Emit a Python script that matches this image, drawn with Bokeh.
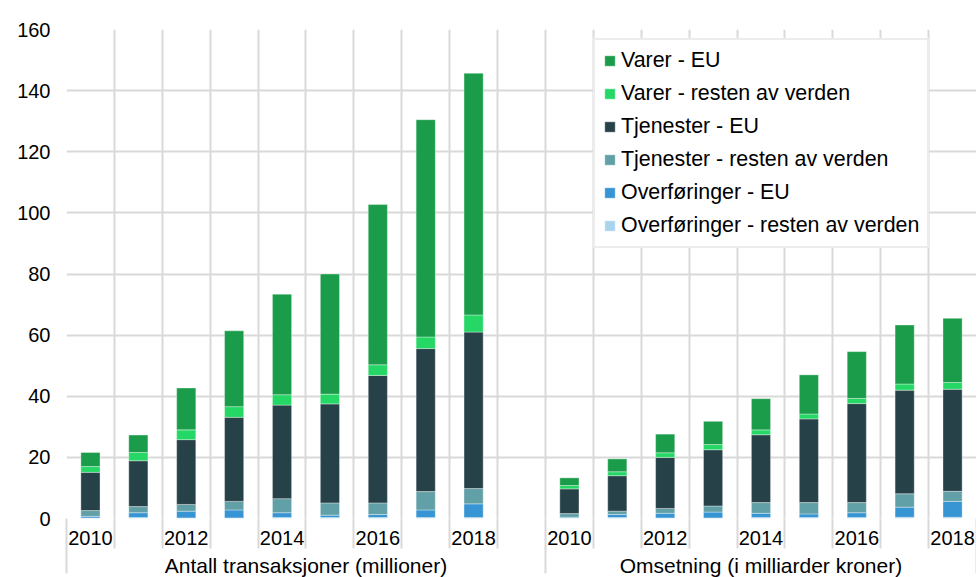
from bokeh.plotting import figure
from bokeh.models import ColumnDataSource, FixedTicker, LinearAxis, Legend, LegendItem, Range1d
from bokeh.embed import file_html
from bokeh.resources import INLINE

# ---------------- data ----------------
years = [2010, 2011, 2012, 2013, 2014, 2015, 2016, 2017, 2018]
year_labels = ["2010", "", "2012", "", "2014", "", "2016", "", "2018"]
group_labels = ["Antall transaksjoner (millioner)", "Omsetning (i milliarder kroner)"]

series_names = [
    "Overføringer - resten av verden",
    "Overføringer - EU",
    "Tjenester - resten av verden",
    "Tjenester - EU",
    "Varer - resten av verden",
    "Varer - EU",
]
series_colors = ["#aad4ee", "#3795d3", "#62a0a8", "#274148", "#25d866", "#1b9c4a"]

# Antall transaksjoner (millioner)
antall_overf_rest = [0.2, 0.3, 0.2, 0.2, 0.3, 0.3, 0.3, 0.3, 0.3]
antall_overf_eu = [0.5, 1.6, 2.2, 2.6, 1.6, 0.8, 1.0, 2.5, 4.5]
antall_tjen_rest = [1.9, 2.0, 2.2, 2.8, 4.6, 4.0, 3.8, 6.0, 5.0]
antall_tjen_eu = [12.5, 15.0, 21.2, 27.5, 30.6, 32.4, 41.7, 46.8, 51.2]
antall_varer_rest = [1.9, 2.7, 3.2, 3.5, 3.4, 3.2, 3.5, 3.8, 5.6]
antall_varer_eu = [4.6, 5.7, 13.7, 24.8, 32.9, 39.3, 52.4, 71.1, 79.1]

# Omsetning (i milliarder kroner)
oms_overf_rest = [0.2, 0.3, 0.2, 0.2, 0.3, 0.3, 0.3, 0.4, 0.4]
oms_overf_eu = [0.2, 1.0, 1.5, 1.9, 1.4, 1.2, 1.6, 3.3, 5.2]
oms_tjen_rest = [1.2, 1.1, 1.6, 2.0, 3.5, 3.7, 3.3, 4.4, 3.3]
oms_tjen_eu = [8.1, 11.6, 16.7, 18.4, 22.2, 27.4, 32.4, 33.9, 33.4]
oms_varer_rest = [1.1, 1.3, 1.5, 1.7, 1.6, 1.6, 1.7, 2.0, 2.2]
oms_varer_eu = [2.5, 4.2, 6.1, 7.6, 10.2, 12.8, 15.3, 19.3, 21.0]

y_ticks = [0, 20, 40, 60, 80, 100, 120, 140, 160]

# ---------------- layout of categories ----------------
n = len(years)
slots_g1 = n + 1          # group 1 has an empty slot after 2018
total_slots = slots_g1 + n
x_g1 = [i + 0.5 for i in range(n)]
x_g2 = [slots_g1 + i + 0.5 for i in range(n)]

keys = ["s0", "s1", "s2", "s3", "s4", "s5"]
g1 = [antall_overf_rest, antall_overf_eu, antall_tjen_rest, antall_tjen_eu, antall_varer_rest, antall_varer_eu]
g2 = [oms_overf_rest, oms_overf_eu, oms_tjen_rest, oms_tjen_eu, oms_varer_rest, oms_varer_eu]
data = {"x": x_g1 + x_g2}
for k, a, b in zip(keys, g1, g2):
    data[k] = list(a) + list(b)
source = ColumnDataSource(data)

FONT = "Liberation Sans"
GRID = "#d9d9d9"

p = figure(
    frame_width=910, frame_height=489,
    x_range=Range1d(0, total_slots), y_range=Range1d(0, 160),
    output_backend="svg", toolbar_location=None,
    min_border_left=66, min_border_top=29, min_border_right=0, min_border_bottom=0,
)
p.outline_line_color = None
p.background_fill_color = "white"

renderers = p.vbar_stack(
    keys, x="x", width=0.4, source=source,
    fill_color=series_colors, line_color="white", line_alpha=0.35, line_width=1,
)

# y axis
p.yaxis.ticker = FixedTicker(ticks=y_ticks)
p.yaxis.axis_line_color = None
p.yaxis.major_tick_line_color = None
p.yaxis.minor_tick_line_color = None
p.yaxis.major_label_standoff = 10
p.yaxis.major_label_text_font = FONT
p.yaxis.major_label_text_font_size = "20px"
p.yaxis.major_label_text_color = "black"

# grids
p.ygrid.grid_line_color = GRID
p.ygrid.grid_line_width = 2
p.xgrid.ticker = FixedTicker(ticks=list(range(total_slots + 1)))
p.xgrid.grid_line_color = GRID
p.xgrid.grid_line_width = 2

# x axis: year labels
centers = x_g1 + x_g2
overrides = {}
for c, lab in zip(centers, year_labels + year_labels):
    overrides[c] = lab
xa = p.xaxis[0]
xa.ticker = FixedTicker(ticks=centers, minor_ticks=list(range(total_slots + 1)))
xa.major_label_overrides = overrides
xa.axis_line_color = None
xa.major_tick_line_color = None
xa.major_tick_out = 0
xa.major_tick_in = 0
xa.minor_tick_in = 0
xa.minor_tick_out = 30
xa.minor_tick_line_color = GRID
xa.minor_tick_line_width = 2
xa.major_label_standoff = -18
xa.major_label_text_font = FONT
xa.major_label_text_font_size = "20px"
xa.major_label_text_color = "black"

# x axis: group labels
gcenters = [slots_g1 / 2, slots_g1 + n / 2]
ga = LinearAxis(
    ticker=FixedTicker(ticks=gcenters, minor_ticks=[0, slots_g1, total_slots]),
    major_label_overrides={gcenters[0]: group_labels[0], gcenters[1]: group_labels[1]},
)
ga.axis_line_color = None
ga.major_tick_line_color = None
ga.major_tick_out = 0
ga.major_tick_in = 0
ga.minor_tick_in = 0
ga.minor_tick_out = 26
ga.minor_tick_line_color = GRID
ga.minor_tick_line_width = 2
ga.major_label_standoff = -20
ga.major_label_text_font = FONT
ga.major_label_text_font_size = "21px"
ga.major_label_text_color = "black"
p.add_layout(ga, "below")

# legend
items = [LegendItem(label=series_names[i], renderers=[renderers[i]]) for i in reversed(range(len(keys)))]
legend = Legend(
    items=items, location=(527, 270),
    label_text_font=FONT, label_text_font_size="21.4px", label_text_color="black",
    glyph_width=13, glyph_height=13, label_height=20, label_standoff=5,
    spacing=8, padding=8, margin=0,
    border_line_color=GRID, border_line_width=2,
    background_fill_color="white", background_fill_alpha=1.0,
)
p.add_layout(legend, "center")

open("out.html", "w").write(file_html(p, INLINE))
